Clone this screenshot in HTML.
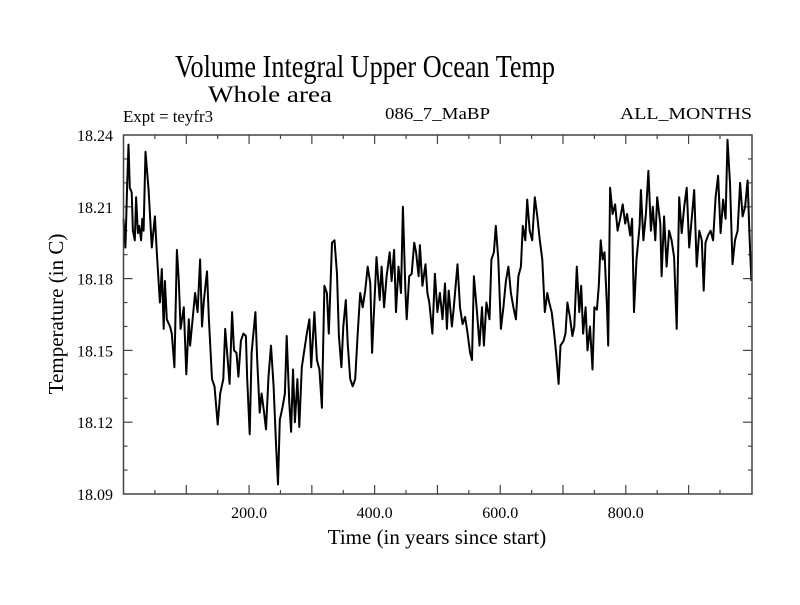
<!DOCTYPE html>
<html><head><meta charset="utf-8"><style>
html,body{margin:0;padding:0;background:#fff;}
svg text{font-family:"Liberation Serif",serif;fill:#000;}
</style></head><body>
<svg id="chart" width="800" height="600" xmlns="http://www.w3.org/2000/svg">
<rect x="0" y="0" width="800" height="600" fill="#fff"/>
<text x="175" y="77" font-size="32" textLength="380" lengthAdjust="spacingAndGlyphs">Volume Integral Upper Ocean Temp</text>
<text x="208" y="102" font-size="23" textLength="124" lengthAdjust="spacingAndGlyphs">Whole area</text>
<text x="123" y="122" font-size="17" textLength="90" lengthAdjust="spacingAndGlyphs">Expt = teyfr3</text>
<text x="385" y="119" font-size="17" textLength="105" lengthAdjust="spacingAndGlyphs">086_7_MaBP</text>
<text x="620" y="119" font-size="17" textLength="132" lengthAdjust="spacingAndGlyphs">ALL_MONTHS</text>
<text x="437" y="544" font-size="21" text-anchor="middle">Time (in years since start)</text>
<text x="0" y="0" font-size="21" text-anchor="middle" transform="translate(63,314) rotate(-90)">Temperature (in C)</text>
<g id="axes"></g>
<path id="series" fill="none" stroke="#000" stroke-width="2" stroke-linejoin="round"/>
<rect x="123.5" y="135" width="628.5" height="359" fill="none" stroke="#444" stroke-width="1.5"/>
</svg>
<script>
const years=[0,3,6,8,10,13,15,18,20,23,25,28,30,32,35,40,45,50,53,58,61,64,66,69,74,77,81,85,88,91,96,100,104,106,110,114,118,122,125,128,133,136,141,145,150,154,159,162,166,169,173,176,180,183,187,191,195,197,201,204,210,213,217,220,224,227,231,235,239,243,246,249,253,257,260,264,267,270,273,277,280,284,288,292,296,299,304,308,312,316,320,324,327,332,336,340,343,347,350,354,357,361,365,369,373,377,381,385,389,393,396,398,403,408,411,415,419,424,427,431,434,438,442,445,449,451,455,459,463,466,470,472,476,481,484,487,492,496,500,504,508,512,515,518,523,526,532,536,540,544,548,552,555,558,563,567,571,574,578,583,586,590,593,597,601,605,609,613,617,621,625,629,633,636,640,643,647,651,655,659,663,667,671,675,678,682,686,689,693,696,701,704,707,711,715,718,722,726,729,732,736,739,743,747,750,754,757,760,763,766,770,772,775,779,783,787,791,795,799,802,807,810,813,817,822,824,828,832,836,840,843,847,850,855,857,861,865,869,873,877,881,885,889,893,897,901,905,909,913,917,921,924,927,931,935,939,943,947,951,955,959,962,966,970,974,978,982,986,990,994,997,1000];
const temps=[18.205,18.193,18.221,18.236,18.218,18.216,18.200,18.196,18.214,18.199,18.202,18.196,18.205,18.200,18.233,18.217,18.193,18.206,18.191,18.170,18.184,18.159,18.179,18.163,18.160,18.157,18.143,18.192,18.179,18.159,18.168,18.140,18.163,18.152,18.163,18.174,18.166,18.188,18.160,18.171,18.183,18.163,18.138,18.135,18.119,18.132,18.138,18.159,18.146,18.136,18.166,18.150,18.149,18.139,18.154,18.157,18.156,18.138,18.115,18.149,18.166,18.146,18.124,18.132,18.124,18.117,18.139,18.152,18.135,18.110,18.094,18.121,18.126,18.132,18.156,18.128,18.116,18.142,18.120,18.138,18.118,18.143,18.150,18.157,18.163,18.143,18.166,18.146,18.142,18.126,18.177,18.174,18.157,18.195,18.196,18.182,18.156,18.143,18.160,18.171,18.153,18.138,18.135,18.138,18.157,18.174,18.168,18.175,18.185,18.178,18.149,18.161,18.189,18.171,18.185,18.168,18.181,18.191,18.179,18.192,18.166,18.185,18.174,18.210,18.175,18.163,18.181,18.182,18.195,18.191,18.181,18.194,18.177,18.186,18.174,18.170,18.157,18.182,18.166,18.174,18.163,18.178,18.159,18.175,18.160,18.168,18.186,18.168,18.161,18.164,18.157,18.149,18.146,18.181,18.166,18.152,18.168,18.152,18.170,18.163,18.188,18.191,18.202,18.188,18.159,18.168,18.179,18.185,18.174,18.168,18.163,18.181,18.185,18.202,18.196,18.213,18.200,18.196,18.214,18.206,18.196,18.188,18.166,18.174,18.170,18.166,18.157,18.149,18.136,18.152,18.154,18.157,18.170,18.164,18.156,18.160,18.185,18.166,18.177,18.157,18.168,18.150,18.160,18.142,18.168,18.167,18.177,18.196,18.188,18.191,18.168,18.152,18.218,18.207,18.211,18.200,18.205,18.211,18.203,18.207,18.198,18.205,18.166,18.188,18.202,18.217,18.196,18.207,18.225,18.200,18.210,18.196,18.214,18.203,18.181,18.206,18.185,18.200,18.196,18.189,18.159,18.214,18.199,18.210,18.218,18.193,18.205,18.217,18.185,18.200,18.196,18.175,18.195,18.198,18.200,18.196,18.214,18.223,18.199,18.213,18.205,18.238,18.220,18.186,18.196,18.200,18.220,18.206,18.210,18.221,18.198,18.179];
const xTickLabels=["200.0","400.0","600.0","800.0"];
const yTickLabels=["18.09","18.12","18.15","18.18","18.21","18.24"];

const X0=123.5,X1=752,Y0=494,Y1=135,XMIN=0,XMAX=1001,YMIN=18.09,YMAX=18.24;
function sx(v){return X0+(v-XMIN)/(XMAX-XMIN)*(X1-X0);}
function sy(v){return Y0-(v-YMIN)/(YMAX-YMIN)*(Y0-Y1);}
const NS="http://www.w3.org/2000/svg";
const axes=document.getElementById('axes');
function line(x1,y1,x2,y2,name){
  const l=document.createElementNS(NS,'line');
  l.setAttribute('x1',x1);l.setAttribute('y1',y1);l.setAttribute('x2',x2);l.setAttribute('y2',y2);
  l.setAttribute('stroke','#444');l.setAttribute('stroke-width','1.2');
  
  
  axes.appendChild(l);
}
function text(x,y,s,anchor,name){
  const t=document.createElementNS(NS,'text');
  t.setAttribute('x',x);t.setAttribute('y',y);t.setAttribute('font-size','16');t.setAttribute('text-anchor',anchor);
  t.textContent=s;
  
  
  axes.appendChild(t);
}
for(let v=50;v<1000;v+=50){
  const major=v%100===0, len=major?9:4, x=sx(v);
  line(x,Y0,x,Y0-len,'x-tick');
  line(x,Y1,x,Y1+len,'x-tick-top');
}
xTickLabels.forEach(s=>{text(sx(parseFloat(s)),518,s,'middle','x-tick-label');});
for(let i=1;i<15;i++){
  const v=YMIN+i*0.01, major=i%3===0, len=major?9:4, y=sy(v);
  line(X0,y,X0+len,y,'y-tick');
  line(X1,y,X1-len,y,'y-tick-right');
}
yTickLabels.forEach(s=>{text(113,sy(parseFloat(s))+6,s,'end','y-tick-label');});
let d='';
years.forEach((yr,i)=>{d+=(i?'L':'M')+sx(yr).toFixed(1)+','+sy(temps[i]).toFixed(1);});
document.getElementById('series').setAttribute('d',d);
</script>
</body></html>
